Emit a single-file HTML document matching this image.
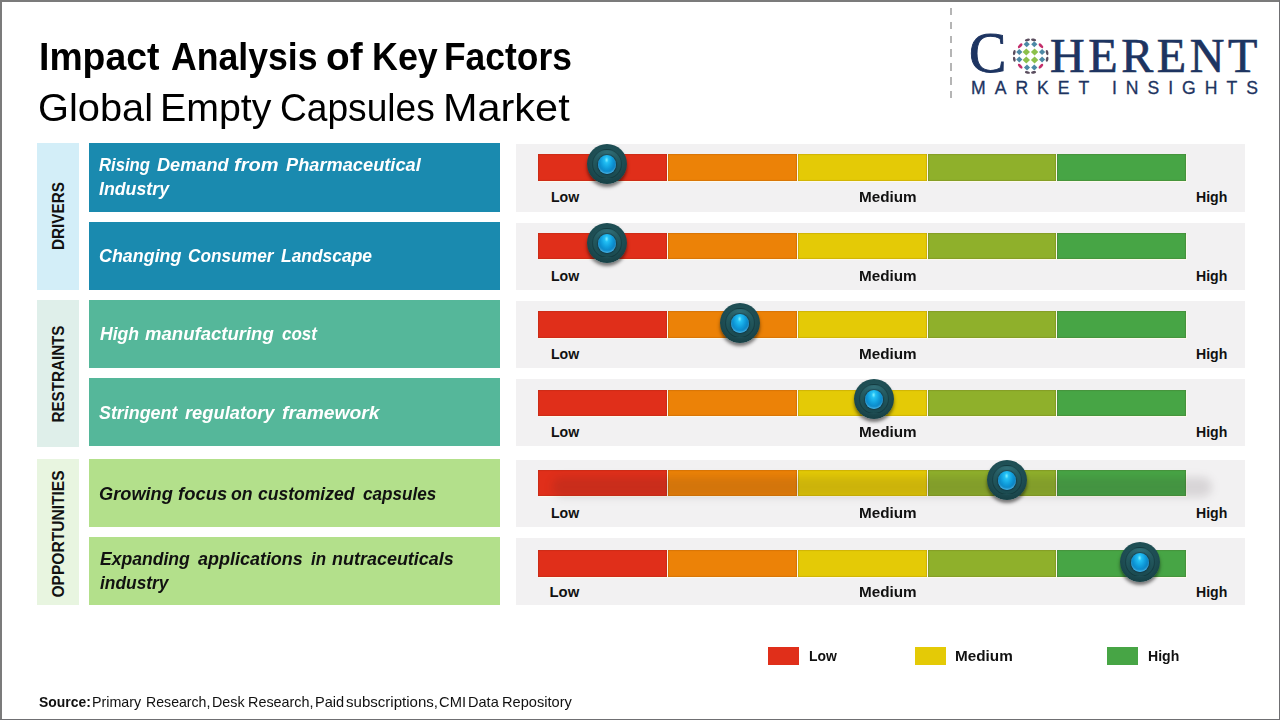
<!DOCTYPE html>
<html><head><meta charset="utf-8"><style>
html,body{margin:0;padding:0}
body{width:1280px;height:720px;position:relative;overflow:hidden;background:#fff;font-family:"Liberation Sans",sans-serif}
.t{position:absolute;white-space:pre;line-height:1;transform-origin:0 50%}
.r{position:absolute}
.knob{position:absolute;width:40px;height:40px;border-radius:50%;background:radial-gradient(circle at 50% 38%,#24585e 0,#1d4c52 55%,#173f44 80%,#0d2a2e 100%);box-shadow:0 3px 3.5px rgba(0,0,0,.5)}
.knob .ring{position:absolute;left:5px;top:5px;width:30px;height:30px;border-radius:50%;box-sizing:border-box;border:1px solid rgba(10,35,40,.4);background:radial-gradient(circle at 50% 15%,#33717a 0,#245a60 45%,#19464b 100%)}
.knob .ball{position:absolute;left:11.2px;top:11px;width:17.6px;height:19px;border-radius:50%;background:radial-gradient(ellipse at 48% 26%,#7ff0ff 0,#22c0f5 15%,#0f9ad9 45%,#0a74b3 80%,#0a5a8a 92%,#3aa8d8 100%);box-shadow:inset 0 -1.5px 1.5px rgba(120,220,255,.5),0 0 1.5px 1px rgba(10,40,55,.6)}
</style></head><body>
<div class="r" style="left:0px;top:0px;width:1280px;height:2px;background:#7b7b7b;"></div>
<div class="r" style="left:0px;top:0px;width:2px;height:720px;background:#7b7b7b;"></div>
<div class="r" style="left:1279px;top:0px;width:1px;height:720px;background:#6f6f72;"></div>
<div class="r" style="left:0px;top:719px;width:1280px;height:1px;background:#6f6f72;"></div>
<div class="t" style="left:39.40px;top:36.58px;font-size:39.00px;font-weight:bold;font-style:normal;color:#000;font-family:'Liberation Sans',sans-serif;transform:scaleX(0.9580448065173117);letter-spacing:0px;word-spacing:0px">Impact</div>
<div class="t" style="left:171.39px;top:36.58px;font-size:39.00px;font-weight:bold;font-style:normal;color:#000;font-family:'Liberation Sans',sans-serif;transform:scaleX(0.9134706814580029);letter-spacing:0px;word-spacing:0px">Analysis</div>
<div class="t" style="left:325.51px;top:36.58px;font-size:39.00px;font-weight:bold;font-style:normal;color:#000;font-family:'Liberation Sans',sans-serif;transform:scaleX(0.9929078014184397);letter-spacing:0px;word-spacing:0px">of</div>
<div class="t" style="left:371.50px;top:36.58px;font-size:39.00px;font-weight:bold;font-style:normal;color:#000;font-family:'Liberation Sans',sans-serif;transform:scaleX(0.9192727272727271);letter-spacing:0px;word-spacing:0px">Key</div>
<div class="t" style="left:444.23px;top:36.58px;font-size:39.00px;font-weight:bold;font-style:normal;color:#000;font-family:'Liberation Sans',sans-serif;transform:scaleX(0.9074954296160879);letter-spacing:0px;word-spacing:0px">Factors</div>
<div class="t" style="left:38.46px;top:87.98px;font-size:39.00px;font-weight:normal;font-style:normal;color:#000;font-family:'Liberation Sans',sans-serif;transform:scaleX(1.0203703703703704);letter-spacing:0px;word-spacing:0px">Global</div>
<div class="t" style="left:160.33px;top:87.98px;font-size:39.00px;font-weight:normal;font-style:normal;color:#000;font-family:'Liberation Sans',sans-serif;transform:scaleX(1.0074766355140186);letter-spacing:0px;word-spacing:0px">Empty</div>
<div class="t" style="left:280.10px;top:87.98px;font-size:39.00px;font-weight:normal;font-style:normal;color:#000;font-family:'Liberation Sans',sans-serif;transform:scaleX(0.9519623233908949);letter-spacing:0px;word-spacing:0px">Capsules</div>
<div class="t" style="left:443.05px;top:87.98px;font-size:39.00px;font-weight:normal;font-style:normal;color:#000;font-family:'Liberation Sans',sans-serif;transform:scaleX(1.062634989200864);letter-spacing:0px;word-spacing:0px">Market</div>
<div class="r" style="left:37px;top:143px;width:42px;height:147px;background:#d3eef8;"></div>
<div class="r" style="left:37px;top:300px;width:42px;height:147px;background:#dfefea;"></div>
<div class="r" style="left:37px;top:459px;width:42px;height:146px;background:#e8f5e0;"></div>
<div class="t" style="left:58.5px;top:215.5px;font-size:17.4px;font-weight:bold;color:#111;line-height:1;transform-origin:50% 50%;transform:translate(-50%,-50%) rotate(-90deg) scaleX(0.88);">DRIVERS</div>
<div class="t" style="left:58.5px;top:373.5px;font-size:17.4px;font-weight:bold;color:#111;line-height:1;transform-origin:50% 50%;transform:translate(-50%,-50%) rotate(-90deg) scaleX(0.873);">RESTRAINTS</div>
<div class="t" style="left:58.5px;top:533.6px;font-size:17.4px;font-weight:bold;color:#111;line-height:1;transform-origin:50% 50%;transform:translate(-50%,-50%) rotate(-90deg) scaleX(0.895);">OPPORTUNITIES</div>
<div class="r" style="left:89px;top:143px;width:411px;height:69px;background:#1a8aaf;"></div>
<div class="t" style="left:99.38px;top:155.85px;font-size:18.60px;font-weight:bold;font-style:italic;color:#fff;font-family:'Liberation Sans',sans-serif;transform:scaleX(0.8977777777777778);letter-spacing:0px;word-spacing:0px">Rising</div>
<div class="t" style="left:157.16px;top:155.85px;font-size:18.60px;font-weight:bold;font-style:italic;color:#fff;font-family:'Liberation Sans',sans-serif;transform:scaleX(0.9755102040816325);letter-spacing:0px;word-spacing:0px">Demand</div>
<div class="t" style="left:234.29px;top:155.85px;font-size:18.60px;font-weight:bold;font-style:italic;color:#fff;font-family:'Liberation Sans',sans-serif;transform:scaleX(1.0767295597484272);letter-spacing:0px;word-spacing:0px">from</div>
<div class="t" style="left:285.65px;top:155.85px;font-size:18.60px;font-weight:bold;font-style:italic;color:#fff;font-family:'Liberation Sans',sans-serif;transform:scaleX(0.9803636363636364);letter-spacing:0px;word-spacing:0px">Pharmaceutical</div>
<div class="t" style="left:99.36px;top:179.85px;font-size:18.60px;font-weight:bold;font-style:italic;color:#fff;font-family:'Liberation Sans',sans-serif;transform:scaleX(0.9545762711864407);letter-spacing:0px;word-spacing:0px">Industry</div>
<div class="r" style="left:516px;top:144px;width:729px;height:68px;background:#f2f1f2;"></div>
<div class="r" style="left:538px;top:154px;width:128.5px;height:27px;background:#e02f1a;box-shadow:inset 0 0 .8px .6px rgba(70,25,0,.22),0 0 1px .5px rgba(255,252,235,.85)"></div>
<div class="r" style="left:668px;top:154px;width:128.5px;height:27px;background:#ec8207;box-shadow:inset 0 0 .8px .6px rgba(70,25,0,.22),0 0 1px .5px rgba(255,252,235,.85)"></div>
<div class="r" style="left:798px;top:154px;width:128.5px;height:27px;background:#e4ca06;box-shadow:inset 0 0 .8px .6px rgba(70,25,0,.22),0 0 1px .5px rgba(255,252,235,.85)"></div>
<div class="r" style="left:927.5px;top:154px;width:128.5px;height:27px;background:#8fb02b;box-shadow:inset 0 0 .8px .6px rgba(70,25,0,.22),0 0 1px .5px rgba(255,252,235,.85)"></div>
<div class="r" style="left:1057px;top:154px;width:129px;height:27px;background:#47a545;box-shadow:inset 0 0 .8px .6px rgba(70,25,0,.22),0 0 1px .5px rgba(255,252,235,.85)"></div>
<div class="t" style="left:551.00px;top:189.86px;font-size:14.10px;font-weight:bold;font-style:normal;color:#111;font-family:'Liberation Sans',sans-serif;letter-spacing:0px;word-spacing:0px">Low</div>
<div class="t" style="left:859.00px;top:189.86px;font-size:14.10px;font-weight:bold;font-style:normal;color:#111;font-family:'Liberation Sans',sans-serif;transform:scaleX(1.083);letter-spacing:0px;word-spacing:0px">Medium</div>
<div class="t" style="left:1196.00px;top:189.86px;font-size:14.10px;font-weight:bold;font-style:normal;color:#111;font-family:'Liberation Sans',sans-serif;letter-spacing:0px;word-spacing:0px">High</div>
<div class="knob" style="left:587px;top:144px"><div class="ring"></div><div class="ball"></div></div>
<div class="r" style="left:89px;top:222px;width:411px;height:68px;background:#1a8aaf;"></div>
<div class="t" style="left:99.04px;top:246.85px;font-size:18.60px;font-weight:bold;font-style:italic;color:#fff;font-family:'Liberation Sans',sans-serif;transform:scaleX(0.962130177514793);letter-spacing:0px;word-spacing:0px">Changing</div>
<div class="t" style="left:187.67px;top:246.85px;font-size:18.60px;font-weight:bold;font-style:italic;color:#fff;font-family:'Liberation Sans',sans-serif;transform:scaleX(0.9297002724795639);letter-spacing:0px;word-spacing:0px">Consumer</div>
<div class="t" style="left:280.97px;top:246.85px;font-size:18.60px;font-weight:bold;font-style:italic;color:#fff;font-family:'Liberation Sans',sans-serif;transform:scaleX(0.9367875647668398);letter-spacing:0px;word-spacing:0px">Landscape</div>
<div class="r" style="left:516px;top:223px;width:729px;height:67px;background:#f2f1f2;"></div>
<div class="r" style="left:538px;top:233px;width:128.5px;height:26px;background:#e02f1a;box-shadow:inset 0 0 .8px .6px rgba(70,25,0,.22),0 0 1px .5px rgba(255,252,235,.85)"></div>
<div class="r" style="left:668px;top:233px;width:128.5px;height:26px;background:#ec8207;box-shadow:inset 0 0 .8px .6px rgba(70,25,0,.22),0 0 1px .5px rgba(255,252,235,.85)"></div>
<div class="r" style="left:798px;top:233px;width:128.5px;height:26px;background:#e4ca06;box-shadow:inset 0 0 .8px .6px rgba(70,25,0,.22),0 0 1px .5px rgba(255,252,235,.85)"></div>
<div class="r" style="left:927.5px;top:233px;width:128.5px;height:26px;background:#8fb02b;box-shadow:inset 0 0 .8px .6px rgba(70,25,0,.22),0 0 1px .5px rgba(255,252,235,.85)"></div>
<div class="r" style="left:1057px;top:233px;width:129px;height:26px;background:#47a545;box-shadow:inset 0 0 .8px .6px rgba(70,25,0,.22),0 0 1px .5px rgba(255,252,235,.85)"></div>
<div class="t" style="left:551.00px;top:268.56px;font-size:14.10px;font-weight:bold;font-style:normal;color:#111;font-family:'Liberation Sans',sans-serif;letter-spacing:0px;word-spacing:0px">Low</div>
<div class="t" style="left:859.00px;top:268.56px;font-size:14.10px;font-weight:bold;font-style:normal;color:#111;font-family:'Liberation Sans',sans-serif;transform:scaleX(1.083);letter-spacing:0px;word-spacing:0px">Medium</div>
<div class="t" style="left:1196.00px;top:268.56px;font-size:14.10px;font-weight:bold;font-style:normal;color:#111;font-family:'Liberation Sans',sans-serif;letter-spacing:0px;word-spacing:0px">High</div>
<div class="knob" style="left:587px;top:222.5px"><div class="ring"></div><div class="ball"></div></div>
<div class="r" style="left:89px;top:300px;width:411px;height:68px;background:#55b79a;"></div>
<div class="t" style="left:99.76px;top:325.15px;font-size:18.60px;font-weight:bold;font-style:italic;color:#fff;font-family:'Liberation Sans',sans-serif;transform:scaleX(0.9465838509316769);letter-spacing:0px;word-spacing:0px">High</div>
<div class="t" style="left:145.35px;top:325.15px;font-size:18.60px;font-weight:bold;font-style:italic;color:#fff;font-family:'Liberation Sans',sans-serif;transform:scaleX(0.9972762645914397);letter-spacing:0px;word-spacing:0px">manufacturing</div>
<div class="t" style="left:282.04px;top:325.15px;font-size:18.60px;font-weight:bold;font-style:italic;color:#fff;font-family:'Liberation Sans',sans-serif;transform:scaleX(0.9150326797385621);letter-spacing:0px;word-spacing:0px">cost</div>
<div class="r" style="left:516px;top:301px;width:729px;height:67px;background:#f2f1f2;"></div>
<div class="r" style="left:538px;top:311px;width:128.5px;height:26.5px;background:#e02f1a;box-shadow:inset 0 0 .8px .6px rgba(70,25,0,.22),0 0 1px .5px rgba(255,252,235,.85)"></div>
<div class="r" style="left:668px;top:311px;width:128.5px;height:26.5px;background:#ec8207;box-shadow:inset 0 0 .8px .6px rgba(70,25,0,.22),0 0 1px .5px rgba(255,252,235,.85)"></div>
<div class="r" style="left:798px;top:311px;width:128.5px;height:26.5px;background:#e4ca06;box-shadow:inset 0 0 .8px .6px rgba(70,25,0,.22),0 0 1px .5px rgba(255,252,235,.85)"></div>
<div class="r" style="left:927.5px;top:311px;width:128.5px;height:26.5px;background:#8fb02b;box-shadow:inset 0 0 .8px .6px rgba(70,25,0,.22),0 0 1px .5px rgba(255,252,235,.85)"></div>
<div class="r" style="left:1057px;top:311px;width:129px;height:26.5px;background:#47a545;box-shadow:inset 0 0 .8px .6px rgba(70,25,0,.22),0 0 1px .5px rgba(255,252,235,.85)"></div>
<div class="t" style="left:551.00px;top:347.06px;font-size:14.10px;font-weight:bold;font-style:normal;color:#111;font-family:'Liberation Sans',sans-serif;letter-spacing:0px;word-spacing:0px">Low</div>
<div class="t" style="left:859.00px;top:347.06px;font-size:14.10px;font-weight:bold;font-style:normal;color:#111;font-family:'Liberation Sans',sans-serif;transform:scaleX(1.083);letter-spacing:0px;word-spacing:0px">Medium</div>
<div class="t" style="left:1196.00px;top:347.06px;font-size:14.10px;font-weight:bold;font-style:normal;color:#111;font-family:'Liberation Sans',sans-serif;letter-spacing:0px;word-spacing:0px">High</div>
<div class="knob" style="left:720px;top:302.5px"><div class="ring"></div><div class="ball"></div></div>
<div class="r" style="left:89px;top:378px;width:411px;height:68px;background:#55b79a;"></div>
<div class="t" style="left:99.16px;top:403.85px;font-size:18.60px;font-weight:bold;font-style:italic;color:#fff;font-family:'Liberation Sans',sans-serif;transform:scaleX(0.9597560975609755);letter-spacing:0px;word-spacing:0px">Stringent</div>
<div class="t" style="left:184.75px;top:403.85px;font-size:18.60px;font-weight:bold;font-style:italic;color:#fff;font-family:'Liberation Sans',sans-serif;transform:scaleX(0.9836065573770492);letter-spacing:0px;word-spacing:0px">regulatory</div>
<div class="t" style="left:281.72px;top:403.85px;font-size:18.60px;font-weight:bold;font-style:italic;color:#fff;font-family:'Liberation Sans',sans-serif;transform:scaleX(1.0372340425531914);letter-spacing:0px;word-spacing:0px">framework</div>
<div class="r" style="left:516px;top:379px;width:729px;height:67px;background:#f2f1f2;"></div>
<div class="r" style="left:538px;top:390px;width:128.5px;height:26px;background:#e02f1a;box-shadow:inset 0 0 .8px .6px rgba(70,25,0,.22),0 0 1px .5px rgba(255,252,235,.85)"></div>
<div class="r" style="left:668px;top:390px;width:128.5px;height:26px;background:#ec8207;box-shadow:inset 0 0 .8px .6px rgba(70,25,0,.22),0 0 1px .5px rgba(255,252,235,.85)"></div>
<div class="r" style="left:798px;top:390px;width:128.5px;height:26px;background:#e4ca06;box-shadow:inset 0 0 .8px .6px rgba(70,25,0,.22),0 0 1px .5px rgba(255,252,235,.85)"></div>
<div class="r" style="left:927.5px;top:390px;width:128.5px;height:26px;background:#8fb02b;box-shadow:inset 0 0 .8px .6px rgba(70,25,0,.22),0 0 1px .5px rgba(255,252,235,.85)"></div>
<div class="r" style="left:1057px;top:390px;width:129px;height:26px;background:#47a545;box-shadow:inset 0 0 .8px .6px rgba(70,25,0,.22),0 0 1px .5px rgba(255,252,235,.85)"></div>
<div class="t" style="left:551.00px;top:425.06px;font-size:14.10px;font-weight:bold;font-style:normal;color:#111;font-family:'Liberation Sans',sans-serif;letter-spacing:0px;word-spacing:0px">Low</div>
<div class="t" style="left:859.00px;top:425.06px;font-size:14.10px;font-weight:bold;font-style:normal;color:#111;font-family:'Liberation Sans',sans-serif;transform:scaleX(1.083);letter-spacing:0px;word-spacing:0px">Medium</div>
<div class="t" style="left:1196.00px;top:425.06px;font-size:14.10px;font-weight:bold;font-style:normal;color:#111;font-family:'Liberation Sans',sans-serif;letter-spacing:0px;word-spacing:0px">High</div>
<div class="knob" style="left:854px;top:378.5px"><div class="ring"></div><div class="ball"></div></div>
<div class="r" style="left:89px;top:459px;width:411px;height:68px;background:#b3e08b;"></div>
<div class="t" style="left:98.92px;top:484.55px;font-size:18.60px;font-weight:bold;font-style:italic;color:#111;font-family:'Liberation Sans',sans-serif;transform:scaleX(0.9797297297297297);letter-spacing:0px;word-spacing:0px">Growing</div>
<div class="t" style="left:177.96px;top:484.55px;font-size:18.60px;font-weight:bold;font-style:italic;color:#111;font-family:'Liberation Sans',sans-serif;transform:scaleX(0.9906735751295339);letter-spacing:0px;word-spacing:0px">focus</div>
<div class="t" style="left:230.93px;top:484.55px;font-size:18.60px;font-weight:bold;font-style:italic;color:#111;font-family:'Liberation Sans',sans-serif;transform:scaleX(0.9488372093023258);letter-spacing:0px;word-spacing:0px">on</div>
<div class="t" style="left:258.43px;top:484.55px;font-size:18.60px;font-weight:bold;font-style:italic;color:#111;font-family:'Liberation Sans',sans-serif;transform:scaleX(0.9421568627450982);letter-spacing:0px;word-spacing:0px">customized</div>
<div class="t" style="left:363.04px;top:484.55px;font-size:18.60px;font-weight:bold;font-style:italic;color:#111;font-family:'Liberation Sans',sans-serif;transform:scaleX(0.9222929936305729);letter-spacing:0px;word-spacing:0px">capsules</div>
<div class="r" style="left:516px;top:460px;width:729px;height:67px;background:#f2f1f2;"></div>
<div class="r" style="left:538px;top:470px;width:128.5px;height:26px;background:#e02f1a;box-shadow:inset 0 0 .8px .6px rgba(70,25,0,.22),0 0 1px .5px rgba(255,252,235,.85)"></div>
<div class="r" style="left:668px;top:470px;width:128.5px;height:26px;background:#ec8207;box-shadow:inset 0 0 .8px .6px rgba(70,25,0,.22),0 0 1px .5px rgba(255,252,235,.85)"></div>
<div class="r" style="left:798px;top:470px;width:128.5px;height:26px;background:#e4ca06;box-shadow:inset 0 0 .8px .6px rgba(70,25,0,.22),0 0 1px .5px rgba(255,252,235,.85)"></div>
<div class="r" style="left:927.5px;top:470px;width:128.5px;height:26px;background:#8fb02b;box-shadow:inset 0 0 .8px .6px rgba(70,25,0,.22),0 0 1px .5px rgba(255,252,235,.85)"></div>
<div class="r" style="left:1057px;top:470px;width:129px;height:26px;background:#47a545;box-shadow:inset 0 0 .8px .6px rgba(70,25,0,.22),0 0 1px .5px rgba(255,252,235,.85)"></div>
<div class="r" style="left:552px;top:477px;width:660px;height:20px;border-radius:10px;background:rgba(45,30,40,.13);filter:blur(4px)"></div>
<div class="t" style="left:551.00px;top:506.06px;font-size:14.10px;font-weight:bold;font-style:normal;color:#111;font-family:'Liberation Sans',sans-serif;letter-spacing:0px;word-spacing:0px">Low</div>
<div class="t" style="left:859.00px;top:506.06px;font-size:14.10px;font-weight:bold;font-style:normal;color:#111;font-family:'Liberation Sans',sans-serif;transform:scaleX(1.083);letter-spacing:0px;word-spacing:0px">Medium</div>
<div class="t" style="left:1196.00px;top:506.06px;font-size:14.10px;font-weight:bold;font-style:normal;color:#111;font-family:'Liberation Sans',sans-serif;letter-spacing:0px;word-spacing:0px">High</div>
<div class="knob" style="left:987px;top:459.5px"><div class="ring"></div><div class="ball"></div></div>
<div class="r" style="left:89px;top:537px;width:411px;height:68px;background:#b3e08b;"></div>
<div class="t" style="left:99.66px;top:550.45px;font-size:18.60px;font-weight:bold;font-style:italic;color:#111;font-family:'Liberation Sans',sans-serif;transform:scaleX(0.9449735449735448);letter-spacing:0px;word-spacing:0px">Expanding</div>
<div class="t" style="left:197.70px;top:550.45px;font-size:18.60px;font-weight:bold;font-style:italic;color:#111;font-family:'Liberation Sans',sans-serif;transform:scaleX(0.966125290023202);letter-spacing:0px;word-spacing:0px">applications</div>
<div class="t" style="left:310.67px;top:550.45px;font-size:18.60px;font-weight:bold;font-style:italic;color:#111;font-family:'Liberation Sans',sans-serif;transform:scaleX(0.9096774193548401);letter-spacing:0px;word-spacing:0px">in</div>
<div class="t" style="left:331.76px;top:550.45px;font-size:18.60px;font-weight:bold;font-style:italic;color:#111;font-family:'Liberation Sans',sans-serif;transform:scaleX(0.9660678642714571);letter-spacing:0px;word-spacing:0px">nutraceuticals</div>
<div class="t" style="left:99.67px;top:573.65px;font-size:18.60px;font-weight:bold;font-style:italic;color:#111;font-family:'Liberation Sans',sans-serif;transform:scaleX(0.9342372881355933);letter-spacing:0px;word-spacing:0px">industry</div>
<div class="r" style="left:516px;top:538px;width:729px;height:67px;background:#f2f1f2;"></div>
<div class="r" style="left:538px;top:550px;width:128.5px;height:27px;background:#e02f1a;box-shadow:inset 0 0 .8px .6px rgba(70,25,0,.22),0 0 1px .5px rgba(255,252,235,.85)"></div>
<div class="r" style="left:668px;top:550px;width:128.5px;height:27px;background:#ec8207;box-shadow:inset 0 0 .8px .6px rgba(70,25,0,.22),0 0 1px .5px rgba(255,252,235,.85)"></div>
<div class="r" style="left:798px;top:550px;width:128.5px;height:27px;background:#e4ca06;box-shadow:inset 0 0 .8px .6px rgba(70,25,0,.22),0 0 1px .5px rgba(255,252,235,.85)"></div>
<div class="r" style="left:927.5px;top:550px;width:128.5px;height:27px;background:#8fb02b;box-shadow:inset 0 0 .8px .6px rgba(70,25,0,.22),0 0 1px .5px rgba(255,252,235,.85)"></div>
<div class="r" style="left:1057px;top:550px;width:129px;height:27px;background:#47a545;box-shadow:inset 0 0 .8px .6px rgba(70,25,0,.22),0 0 1px .5px rgba(255,252,235,.85)"></div>
<div class="t" style="left:549.50px;top:585.18px;font-size:14.90px;font-weight:bold;font-style:normal;color:#111;font-family:'Liberation Sans',sans-serif;letter-spacing:0px;word-spacing:0px">Low</div>
<div class="t" style="left:859.00px;top:584.56px;font-size:14.10px;font-weight:bold;font-style:normal;color:#111;font-family:'Liberation Sans',sans-serif;transform:scaleX(1.083);letter-spacing:0px;word-spacing:0px">Medium</div>
<div class="t" style="left:1196.00px;top:584.56px;font-size:14.10px;font-weight:bold;font-style:normal;color:#111;font-family:'Liberation Sans',sans-serif;letter-spacing:0px;word-spacing:0px">High</div>
<div class="knob" style="left:1120px;top:542px"><div class="ring"></div><div class="ball"></div></div>

<div class="r" style="left:768px;top:647px;width:31px;height:18px;background:#e02f1a;"></div>
<div class="r" style="left:915px;top:647px;width:31px;height:18px;background:#e4ca06;"></div>
<div class="r" style="left:1107px;top:647px;width:31px;height:18px;background:#47a545;"></div>
<div class="t" style="left:809.00px;top:648.52px;font-size:14.50px;font-weight:bold;font-style:normal;color:#111;font-family:'Liberation Sans',sans-serif;transform:scaleX(0.96);letter-spacing:0px;word-spacing:0px">Low</div>
<div class="t" style="left:955.00px;top:648.52px;font-size:14.50px;font-weight:bold;font-style:normal;color:#111;font-family:'Liberation Sans',sans-serif;transform:scaleX(1.054);letter-spacing:0px;word-spacing:0px">Medium</div>
<div class="t" style="left:1147.80px;top:648.52px;font-size:14.50px;font-weight:bold;font-style:normal;color:#111;font-family:'Liberation Sans',sans-serif;transform:scaleX(0.97);letter-spacing:0px;word-spacing:0px">High</div>
<div class="t" style="left:38.91px;top:694.73px;font-size:14.20px;font-weight:bold;font-style:normal;color:#111;font-family:'Liberation Sans',sans-serif;transform:scaleX(0.9803921568627453);letter-spacing:0px;word-spacing:0px">Source:</div>
<div class="t" style="left:92.34px;top:694.73px;font-size:14.20px;font-weight:normal;font-style:normal;color:#111;font-family:'Liberation Sans',sans-serif;transform:scaleX(1.0063157894736845);letter-spacing:0px;word-spacing:0px">Primary</div>
<div class="t" style="left:145.76px;top:694.73px;font-size:14.20px;font-weight:normal;font-style:normal;color:#111;font-family:'Liberation Sans',sans-serif;transform:scaleX(0.9959839357429718);letter-spacing:0px;word-spacing:0px">Research,</div>
<div class="t" style="left:212.04px;top:694.73px;font-size:14.20px;font-weight:normal;font-style:normal;color:#111;font-family:'Liberation Sans',sans-serif;transform:scaleX(1.0096774193548381);letter-spacing:0px;word-spacing:0px">Desk</div>
<div class="t" style="left:247.63px;top:694.73px;font-size:14.20px;font-weight:normal;font-style:normal;color:#111;font-family:'Liberation Sans',sans-serif;transform:scaleX(1.0136546184738955);letter-spacing:0px;word-spacing:0px">Research,</div>
<div class="t" style="left:314.61px;top:694.73px;font-size:14.20px;font-weight:normal;font-style:normal;color:#111;font-family:'Liberation Sans',sans-serif;transform:scaleX(1.0285714285714285);letter-spacing:0px;word-spacing:0px">Paid</div>
<div class="t" style="left:346.37px;top:694.73px;font-size:14.20px;font-weight:normal;font-style:normal;color:#111;font-family:'Liberation Sans',sans-serif;transform:scaleX(1.0611764705882358);letter-spacing:0px;word-spacing:0px">subscriptions,</div>
<div class="t" style="left:439.12px;top:694.73px;font-size:14.20px;font-weight:normal;font-style:normal;color:#111;font-family:'Liberation Sans',sans-serif;transform:scaleX(1.0375000000000014);letter-spacing:0px;word-spacing:0px">CMI</div>
<div class="t" style="left:467.92px;top:694.73px;font-size:14.20px;font-weight:normal;font-style:normal;color:#111;font-family:'Liberation Sans',sans-serif;transform:scaleX(1.0260869565217392);letter-spacing:0px;word-spacing:0px">Data</div>
<div class="t" style="left:502.11px;top:694.73px;font-size:14.20px;font-weight:normal;font-style:normal;color:#111;font-family:'Liberation Sans',sans-serif;transform:scaleX(1.0300751879699248);letter-spacing:0px;word-spacing:0px">Repository</div>

<div class="r" style="left:949.5px;top:8px;width:2px;height:92px;background:repeating-linear-gradient(to bottom,#b5b5b5 0 7.5px,transparent 7.5px 13.8px)"></div>
<svg class="r" style="left:0;top:0" width="1280" height="110" viewBox="0 0 1280 110">
  <text x="969" y="72.3" font-family="Liberation Serif" font-size="56" fill="#1d3461" stroke="#1d3461" stroke-width="0.9">C</text>
  <text x="1050" y="72.2" font-family="Liberation Serif" font-size="48" fill="#1d3461" stroke="#1d3461" stroke-width="0.7" letter-spacing="3.6">HERENT</text>
  <text x="971" y="94" font-family="Liberation Sans" font-size="17.6" fill="#1d3461" stroke="#1d3461" stroke-width="0.3" letter-spacing="9.0">MARKET INSIGHTS</text>
  <path d="M1022.60 51.90L1026.30 48.40L1030.00 51.90L1026.30 55.40Z" fill="#8cc04b"/>
<path d="M1030.90 51.90L1034.60 48.40L1038.30 51.90L1034.60 55.40Z" fill="#8cc04b"/>
<path d="M1022.60 60.00L1026.30 56.50L1030.00 60.00L1026.30 63.50Z" fill="#8cc04b"/>
<path d="M1030.90 60.00L1034.60 56.50L1038.30 60.00L1034.60 63.50Z" fill="#8cc04b"/>
<path d="M1023.60 44.30L1026.70 41.30L1029.80 44.30L1026.70 47.30Z" fill="#4d89a6"/>
<path d="M1031.20 44.30L1034.30 41.30L1037.40 44.30L1034.30 47.30Z" fill="#4d89a6"/>
<path d="M1016.20 52.10L1019.30 49.10L1022.40 52.10L1019.30 55.10Z" fill="#4d89a6"/>
<path d="M1039.00 52.10L1042.10 49.10L1045.20 52.10L1042.10 55.10Z" fill="#4d89a6"/>
<path d="M1016.20 59.60L1019.30 56.60L1022.40 59.60L1019.30 62.60Z" fill="#4d89a6"/>
<path d="M1039.00 59.60L1042.10 56.60L1045.20 59.60L1042.10 62.60Z" fill="#4d89a6"/>
<path d="M1023.90 67.50L1027.00 64.50L1030.10 67.50L1027.00 70.50Z" fill="#4d89a6"/>
<path d="M1031.20 67.50L1034.30 64.50L1037.40 67.50L1034.30 70.50Z" fill="#4d89a6"/>
<ellipse cx="1020.20" cy="45.80" rx="3.0" ry="1.4" fill="#c42f6b" transform="rotate(-45 1020.20 45.80)"/>
<ellipse cx="1040.90" cy="45.80" rx="3.0" ry="1.4" fill="#c42f6b" transform="rotate(45 1040.90 45.80)"/>
<ellipse cx="1020.20" cy="66.20" rx="3.0" ry="1.4" fill="#c42f6b" transform="rotate(45 1020.20 66.20)"/>
<ellipse cx="1040.90" cy="66.20" rx="3.0" ry="1.4" fill="#c42f6b" transform="rotate(-45 1040.90 66.20)"/>
<ellipse cx="1027.40" cy="39.90" rx="2.6" ry="1.3" fill="#5a4d5e" transform="rotate(-11.5 1027.40 39.90)"/>
<ellipse cx="1033.60" cy="39.90" rx="2.6" ry="1.3" fill="#5a4d5e" transform="rotate(10.1 1033.60 39.90)"/>
<ellipse cx="1027.40" cy="72.40" rx="2.6" ry="1.3" fill="#5a4d5e" transform="rotate(191.4 1027.40 72.40)"/>
<ellipse cx="1033.60" cy="72.40" rx="2.6" ry="1.3" fill="#5a4d5e" transform="rotate(169.9 1033.60 72.40)"/>
<ellipse cx="1014.30" cy="52.60" rx="2.6" ry="1.3" fill="#5a4d5e" transform="rotate(-78.0 1014.30 52.60)"/>
<ellipse cx="1014.30" cy="59.30" rx="2.6" ry="1.3" fill="#5a4d5e" transform="rotate(259.0 1014.30 59.30)"/>
<ellipse cx="1047.10" cy="52.60" rx="2.6" ry="1.3" fill="#5a4d5e" transform="rotate(78.0 1047.10 52.60)"/>
<ellipse cx="1047.10" cy="59.30" rx="2.6" ry="1.3" fill="#5a4d5e" transform="rotate(101.0 1047.10 59.30)"/>
</svg>

</body></html>
